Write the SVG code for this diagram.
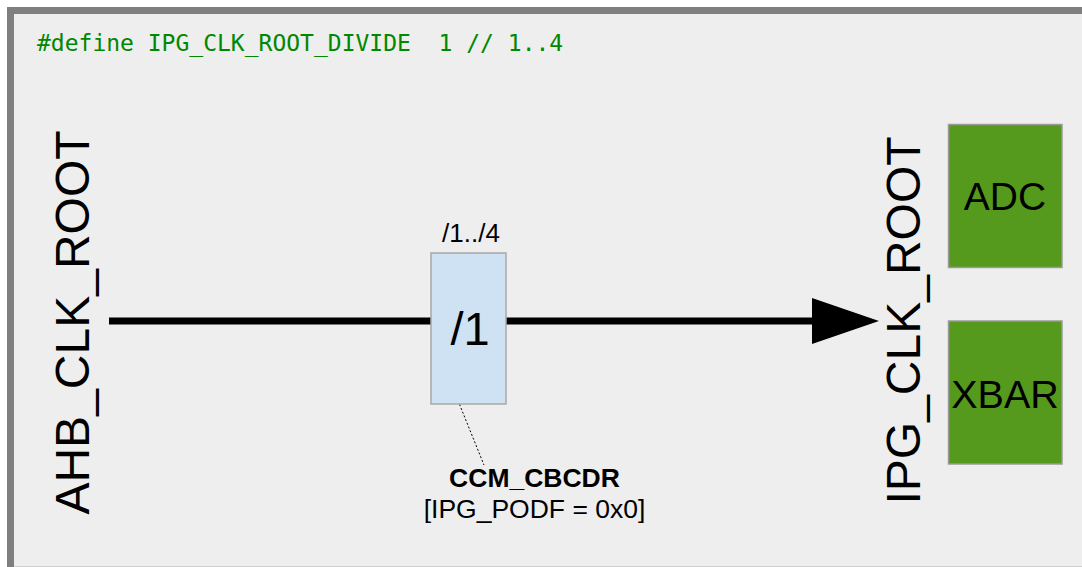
<svg xmlns="http://www.w3.org/2000/svg" width="1082" height="567" viewBox="0 0 1082 567">
  <style>
    .sans { font-family: "Liberation Sans", Arial, sans-serif; fill: #000; }
    .code { font-family: "DejaVu Sans Mono", "Liberation Mono", monospace; font-size: 23px; fill: #008800; white-space: pre; }
    .block { fill: #559a1c; stroke: #9a9a9a; stroke-width: 1.5; }
    .div { fill: #cfe2f3; stroke: #a8a8a8; stroke-width: 1.5; }
    .wire { stroke: #000; stroke-width: 7; fill: none; }
  </style>
  <defs>
    <marker id="bigArrow" markerUnits="userSpaceOnUse" markerWidth="70" markerHeight="50" refX="0" refY="23" orient="auto">
      <polygon points="0,0 67,23 0,46" fill="#000"/>
    </marker>
  </defs>

  <!-- canvas and frame -->
  <rect x="0" y="0" width="1082" height="567" fill="#ffffff"/>
  <rect x="10.5" y="10.5" width="1090" height="580" fill="#eeeeee" stroke="#7f7f7f" stroke-width="7"/>
  <line x1="14" y1="566.5" x2="1082" y2="566.5" stroke="#cfcfcf" stroke-width="1"/>

  <!-- configuration line -->
  <g id="config">
    <text class="code" x="37" y="51" xml:space="preserve">#define IPG_CLK_ROOT_DIVIDE  1 // 1..4</text>
  </g>

  <!-- connectors -->
  <g id="connectors">
    <line class="wire" x1="109" y1="321" x2="812" y2="321" marker-end="url(#bigArrow)"/>
    <line x1="453.5" y1="389.5" x2="484" y2="465" stroke="#000" stroke-width="1" stroke-dasharray="2,2"/>
  </g>

  <!-- source clock -->
  <g id="ahb-clk-root">
    <text class="sans" font-size="48" text-anchor="middle" transform="translate(89,322.5) rotate(-90)">AHB_CLK_ROOT</text>
  </g>

  <!-- divider -->
  <g id="ipg-divider">
    <text class="sans" font-size="26" x="471" y="242" text-anchor="middle">/1../4</text>
    <rect class="div" x="431" y="253" width="75" height="151"/>
    <text class="sans" font-size="47" x="470" y="345" text-anchor="middle">/1</text>
  </g>

  <!-- register annotation -->
  <g id="ccm-cbcdr">
    <text class="sans" font-size="26.5" font-weight="bold" x="534.5" y="487" text-anchor="middle">CCM_CBCDR</text>
    <text class="sans" font-size="26.5" x="534.5" y="518" text-anchor="middle">[IPG_PODF = 0x0]</text>
  </g>

  <!-- output clock -->
  <g id="ipg-clk-root">
    <text class="sans" font-size="48" text-anchor="middle" transform="translate(920,320.5) rotate(-90)">IPG_CLK_ROOT</text>
  </g>

  <!-- peripherals -->
  <g id="adc">
    <rect class="block" x="948.5" y="124.5" width="113.5" height="143"/>
    <text class="sans" font-size="39" x="1005" y="210" text-anchor="middle">ADC</text>
  </g>
  <g id="xbar">
    <rect class="block" x="948.5" y="321" width="113.5" height="143"/>
    <text class="sans" font-size="39.5" x="1005" y="407.5" text-anchor="middle">XBAR</text>
  </g>
</svg>
